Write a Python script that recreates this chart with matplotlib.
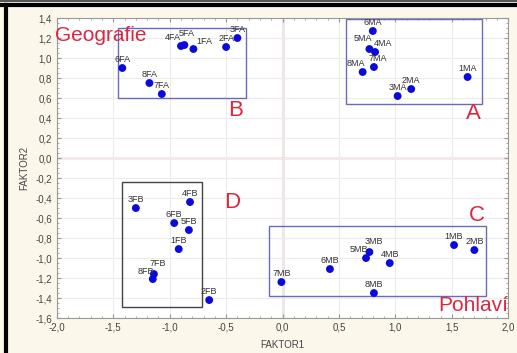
import matplotlib
matplotlib.use("Agg")
import matplotlib.pyplot as plt
from matplotlib.patches import Rectangle
from matplotlib.ticker import MultipleLocator, FuncFormatter

plt.rcParams['font.family'] = ['Liberation Sans', 'DejaVu Sans']

# Data
fa_labels = ["6FA", "8FA", "7FA", "4FA", "5FA", "1FA", "2FA", "3FA"]
fa_x = [-1.42, -1.18, -1.07, -0.90, -0.87, -0.79, -0.50, -0.40]
fa_y = [0.90, 0.75, 0.64, 1.12, 1.13, 1.09, 1.11, 1.20]

ma_labels = ["6MA", "5MA", "4MA", "7MA", "8MA", "3MA", "2MA", "1MA"]
ma_x = [0.80, 0.77, 0.82, 0.81, 0.71, 1.02, 1.14, 1.64]
ma_y = [1.27, 1.09, 1.06, 0.91, 0.86, 0.62, 0.69, 0.81]

fb_labels = ["3FB", "4FB", "6FB", "5FB", "1FB", "7FB", "8FB", "2FB"]
fb_x = [-1.30, -0.82, -0.96, -0.83, -0.92, -1.14, -1.15, -0.65]
fb_y = [-0.50, -0.44, -0.65, -0.72, -0.91, -1.16, -1.21, -1.42]

mb_labels = ["7MB", "6MB", "5MB", "3MB", "4MB", "8MB", "1MB", "2MB"]
mb_x = [-0.01, 0.42, 0.74, 0.77, 0.95, 0.81, 1.52, 1.70]
mb_y = [-1.24, -1.11, -1.00, -0.94, -1.05, -1.35, -0.87, -0.92]

# group boxes: (x0, y0, x1, y1)
box_a = (0.565, 0.54, 1.77, 1.39)
box_b = (-1.46, 0.60, -0.32, 1.30)
box_c = (-0.12, -1.38, 1.80, -0.68)
box_d = (-1.42, -1.49, -0.71, -0.24)

# small label nudges (points) for crowded labels
nudge = {"4FA": (-6, 0), "5FA": (2, 2), "1FA": (8, -1), "5MA": (-5, 1), "4MA": (6, 0),
         "7MA": (3, 0), "8MA": (-5, 0),
         "7FB": (3, 1), "8FB": (-5, -1), "3MB": (3, 1), "5MB": (-5, 0)}

bg = '#fbf7ea'
fig = plt.figure(figsize=(5.17, 3.53), dpi=100, facecolor=bg)
ax = fig.add_axes([0.110, 0.099, 0.873, 0.850])
ax.set_facecolor('white')

ax.set_xlim(-2.0, 2.0)
ax.set_ylim(-1.6, 1.4)
ax.xaxis.set_major_locator(MultipleLocator(0.5))
ax.yaxis.set_major_locator(MultipleLocator(0.2))
ax.xaxis.set_minor_locator(MultipleLocator(0.1))
ax.yaxis.set_minor_locator(MultipleLocator(0.05))
fmt = FuncFormatter(lambda v, p: f"{v:.1f}".replace('.', ',').replace('-0,0', '0,0'))
ax.xaxis.set_major_formatter(fmt)
ax.yaxis.set_major_formatter(fmt)
ax.tick_params(which='both', direction='in', top=True, right=True, colors='#999999',
               labelcolor='#444444', labelsize=7)
ax.tick_params(which='major', length=3)
ax.tick_params(which='minor', length=1.5)
ax.grid(True, which='major', color='#ececec', linewidth=0.8)
for s in ax.spines.values():
    s.set_color('#999999')
    s.set_linewidth(0.8)

ax.axhline(0, color='#e38a8a', linewidth=1.0, zorder=1)
ax.axvline(0, color='#b07878', linewidth=1.0, zorder=1)

for (x0, y0, x1, y1), c in [(box_a, '#6a6ab8'), (box_b, '#6a6ab8'), (box_c, '#6a6ab8'), (box_d, '#444444')]:
    ax.add_patch(Rectangle((x0, y0), x1 - x0, y1 - y0, fill=False, edgecolor=c, linewidth=1.0, zorder=2))

for xs, ys, labs in [(fa_x, fa_y, fa_labels), (ma_x, ma_y, ma_labels),
                     (fb_x, fb_y, fb_labels), (mb_x, mb_y, mb_labels)]:
    ax.scatter(xs, ys, s=32, color='#0a0adc', zorder=4, edgecolors='none')
    for x, y, t in zip(xs, ys, labs):
        dx, dy = nudge.get(t, (0, 0))
        ax.annotate(t, (x, y), xytext=(dx, 3 + dy), textcoords='offset points', ha='center', va='bottom',
                    fontsize=6.5, color='#333333', zorder=5)

red = '#d9283f'
ax.text(-2.02, 1.23, "Geografie", color=red, fontsize=15, ha='left', va='center', clip_on=False)
ax.text(2.0, -1.47, "Pohlaví", color=red, fontsize=15, ha='right', va='center')
ax.text(-0.42, 0.48, "B", color=red, fontsize=16, ha='center', va='center')
ax.text(1.69, 0.45, "A", color=red, fontsize=16, ha='center', va='center')
ax.text(1.72, -0.57, "C", color=red, fontsize=16, ha='center', va='center')
ax.text(-0.45, -0.44, "D", color=red, fontsize=16, ha='center', va='center')

ax.set_xlabel("FAKTOR1", fontsize=7, color='#444444', labelpad=5)
ax.set_ylabel("FAKTOR2", fontsize=7, color='#444444', labelpad=4)

# outer frame (top and left edges)
fig.add_artist(plt.Line2D([0.012, 0.012], [0.0, 0.985], transform=fig.transFigure, color='black', linewidth=3))
fig.add_artist(plt.Line2D([0.0, 1.0], [0.985, 0.985], transform=fig.transFigure, color='black', linewidth=3))
fig.add_artist(plt.Line2D([0.0, 1.0], [0.998, 0.998], transform=fig.transFigure, color='#555555', linewidth=1.5))

fig.savefig("out.png", dpi=100, facecolor=bg)
